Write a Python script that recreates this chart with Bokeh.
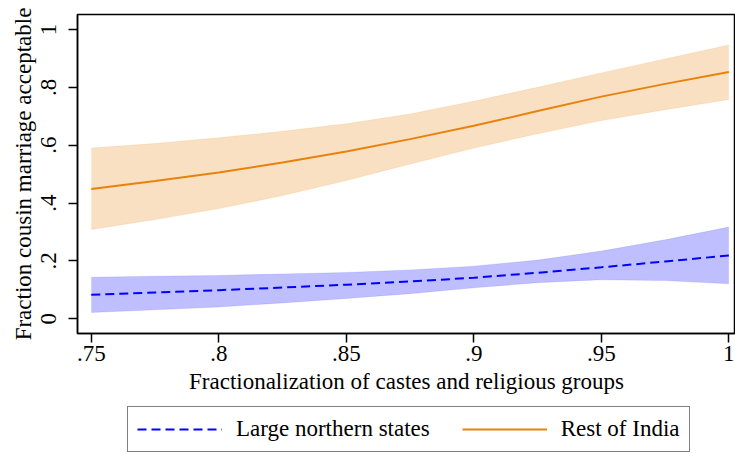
from bokeh.plotting import figure
from bokeh.models import Range1d, FixedTicker, Legend, LegendItem, ColumnDataSource
from bokeh.layouts import column
from bokeh.embed import file_html
from bokeh.resources import INLINE

# Data
frac = [0.75, 0.775, 0.80, 0.825, 0.85, 0.875, 0.90, 0.925, 0.95, 0.975, 1.00]

rest_mean = [0.449, 0.476, 0.506, 0.540, 0.578, 0.621, 0.667, 0.718, 0.768, 0.812, 0.853]
rest_hi = [0.590, 0.606, 0.626, 0.648, 0.674, 0.708, 0.752, 0.800, 0.850, 0.898, 0.946]
rest_lo = [0.309, 0.343, 0.381, 0.426, 0.478, 0.535, 0.590, 0.640, 0.685, 0.723, 0.758]

north_mean = [0.083, 0.091, 0.099, 0.108, 0.118, 0.129, 0.142, 0.159, 0.178, 0.198, 0.219]
north_hi = [0.144, 0.147, 0.150, 0.155, 0.160, 0.169, 0.182, 0.203, 0.234, 0.273, 0.317]
north_lo = [0.022, 0.031, 0.041, 0.055, 0.070, 0.087, 0.107, 0.125, 0.135, 0.132, 0.121]

x_ticks = [0.75, 0.80, 0.85, 0.90, 0.95, 1.00]
x_tick_labels = [".75", ".8", ".85", ".9", ".95", "1"]
y_ticks = [0, 0.2, 0.4, 0.6, 0.8, 1.0]
y_tick_labels = ["0", ".2", ".4", ".6", ".8", "1"]

series_names = ["Large northern states", "Rest of India"]

FONT = "Liberation Serif"
ORANGE = "#E8820C"
BLUE = "#0000FF"

src = ColumnDataSource(dict(x=frac, rm=rest_mean, rh=rest_hi, rl=rest_lo,
                            nm=north_mean, nh=north_hi, nl=north_lo))

p = figure(width=735, height=400, output_backend="svg", toolbar_location=None,
           x_range=Range1d(0.7446, 1.0026), y_range=Range1d(-0.0508, 1.0518),
           min_border_left=77, min_border_top=14, min_border_right=0,
           min_border_bottom=67)

p.varea(x="x", y1="rl", y2="rh", source=src, fill_color=ORANGE, fill_alpha=0.25)
p.line(x="x", y="rl", source=src, line_color=ORANGE, line_alpha=0.12, line_width=1)
p.line(x="x", y="rh", source=src, line_color=ORANGE, line_alpha=0.12, line_width=1)
p.varea(x="x", y1="nl", y2="nh", source=src, fill_color=BLUE, fill_alpha=0.25)
p.line(x="x", y="nl", source=src, line_color=BLUE, line_alpha=0.1, line_width=1)
p.line(x="x", y="nh", source=src, line_color=BLUE, line_alpha=0.1, line_width=1)

p.line(x="x", y="rm", source=src, line_color=ORANGE, line_width=2)
p.line(x="x", y="nm", source=src, line_color=BLUE, line_width=2, line_dash="9 5")

p.xgrid.visible = False
p.ygrid.visible = False
p.outline_line_color = "black"
p.outline_line_width = 1.5
p.outline_line_alpha = 1

for ax in (p.xaxis[0], p.yaxis[0]):
    ax.axis_line_width = 1.5
    ax.major_tick_line_width = 1.5
    ax.major_tick_out = 9
    ax.major_tick_in = 0
    ax.minor_tick_out = 0
    ax.minor_tick_in = 0
    ax.major_label_text_font = FONT
    ax.major_label_text_font_size = "23px"
    ax.major_label_text_color = "black"
    ax.axis_label_text_font = FONT
    ax.axis_label_text_font_size = "23px"
    ax.axis_label_text_font_style = "normal"
    ax.axis_label_text_color = "black"

p.xaxis.ticker = FixedTicker(ticks=x_ticks)
p.xaxis.major_label_overrides = {t: l for t, l in zip(x_ticks, x_tick_labels)}
p.yaxis.ticker = FixedTicker(ticks=y_ticks)
p.yaxis.major_label_overrides = {t: l for t, l in zip(y_ticks, y_tick_labels)}
p.yaxis.major_label_orientation = "vertical"
p.xaxis.axis_label = "Fractionalization of castes and religious groups"
p.yaxis.axis_label = "Fraction cousin marriage acceptable"
p.xaxis.major_label_standoff = 3
p.xaxis.axis_label_standoff = 5
p.yaxis.major_label_standoff = 12
p.yaxis.axis_label_standoff = 3

# Legend figure below the plot (its own series lie outside its visible range)
lg = figure(width=735, height=53, output_backend="svg", toolbar_location=None,
            x_axis_type=None, y_axis_type=None,
            min_border_left=0, min_border_right=0, min_border_top=0,
            min_border_bottom=0, x_range=Range1d(0, 1), y_range=Range1d(10, 11))
lg.outline_line_color = None
lg.xgrid.visible = False
lg.ygrid.visible = False
d_north = lg.line(x=frac, y=north_mean, line_color=BLUE, line_width=2, line_dash="9 5")
d_rest = lg.line(x=frac, y=rest_mean, line_color=ORANGE, line_width=2)

legend = Legend(items=[LegendItem(label=series_names[0], renderers=[d_north]),
                       LegendItem(label=series_names[1], renderers=[d_rest])],
                orientation="horizontal", location=(50, 1))
legend.label_text_font = FONT
legend.label_text_font_size = "23px"
legend.label_text_color = "black"
legend.glyph_width = 85
legend.glyph_height = 24
legend.label_standoff = 14
legend.spacing = 32
legend.padding = 9
legend.margin = 0
legend.border_line_color = "black"
legend.border_line_width = 1.5
legend.background_fill_alpha = 1
lg.add_layout(legend, "center")

layout = column(p, lg, spacing=0)
open("out.html", "w").write(file_html(layout, INLINE))
